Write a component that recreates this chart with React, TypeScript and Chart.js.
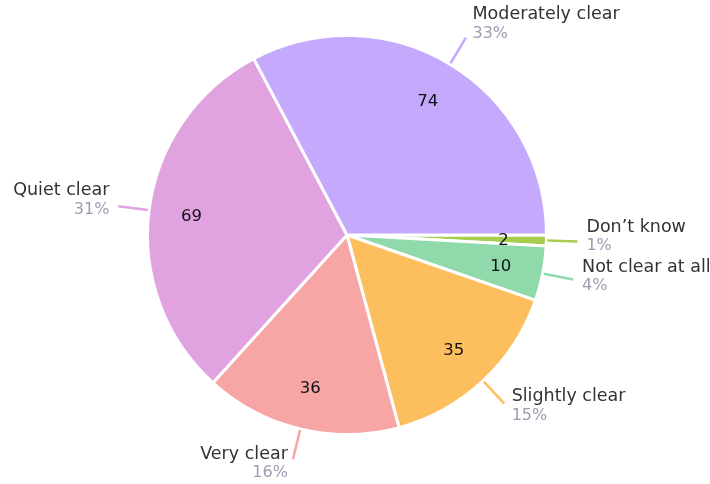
import React, { useEffect, useRef } from "react";
import { Chart, registerables } from "chart.js";

Chart.register(...registerables);

const categories = ["Don\u2019t know", "Not clear at all", "Slightly clear", "Very clear", "Quiet clear", "Moderately clear"];
const counts = [2, 10, 35, 36, 69, 74];
const colors = ["#a8cd4e", "#8fd9ab", "#fdbf5e", "#f7a5a5", "#e0a3e0", "#c5a9fc"];

const FONT = "'DejaVu Sans', sans-serif";

const labelPlugin = {
  id: "pieLabels",
  afterDatasetsDraw(chart: any) {
    const ctx = chart.ctx;
    const meta = chart.getDatasetMeta(0);
    const data = chart.data.datasets[0].data as number[];
    const total = data.reduce((a, b) => a + b, 0);
    meta.data.forEach((arc: any, i: number) => {
      const { x, y, startAngle, endAngle, outerRadius } = arc.getProps(
        ["x", "y", "startAngle", "endAngle", "outerRadius"],
        true
      );
      const mid = (startAngle + endAngle) / 2;
      const c = Math.cos(mid);
      const s = Math.sin(mid);
      // value inside
      ctx.save();
      ctx.fillStyle = "#111118";
      ctx.font = `16.5px ${FONT}`;
      ctx.textAlign = "center";
      ctx.textBaseline = "middle";
      const vr = outerRadius * 0.785;
      ctx.fillText(String(data[i]), x + c * vr, y + s * vr + 1);
      // leader
      const r1 = outerRadius + 1;
      const r2 = outerRadius + 31;
      const ex = x + c * r2;
      const ey = y + s * r2;
      ctx.strokeStyle = colors[i];
      ctx.lineWidth = 2.5;
      ctx.beginPath();
      ctx.moveTo(x + c * r1, y + s * r1);
      ctx.lineTo(ex, ey);
      ctx.stroke();
      // text block
      const right = c >= 0;
      const gap = 4 + 5 * Math.abs(c);
      const tx = right ? ex + gap : ex - gap;
      const blockC = ey - 5 + 10 * s;
      ctx.textAlign = right ? "left" : "right";
      ctx.textBaseline = "middle";
      ctx.fillStyle = "#333333";
      ctx.font = `17.5px ${FONT}`;
      ctx.fillText(categories[i], tx, blockC - 9.5);
      ctx.fillStyle = "#9c9cb4";
      ctx.font = `16px ${FONT}`;
      const pct = Math.round((data[i] / total) * 100) + "%";
      ctx.fillText(pct, tx, blockC + 9.5);
      ctx.restore();
    });
  },
};

export default function App() {
  const ref = useRef<HTMLCanvasElement>(null);
  useEffect(() => {
    document.body.style.margin = "0";
    const chart = new Chart(ref.current!, {
      type: "pie",
      data: {
        labels: categories,
        datasets: [
          {
            data: counts,
            backgroundColor: colors,
            borderColor: "#ffffff",
            borderWidth: 3,
          },
        ],
      },
      options: {
        animation: false,
        responsive: false,
        rotation: 90,
        layout: { padding: { left: 146, right: 162, top: 34, bottom: 48 } },
        plugins: { legend: { display: false }, tooltip: { enabled: false } },
      },
      plugins: [labelPlugin],
    });
    return () => chart.destroy();
  }, []);
  return (
    <div style={{ width: 710, height: 484, background: "#fff" }}>
      <canvas ref={ref} width={710} height={484} style={{ display: "block" }} />
    </div>
  );
}
